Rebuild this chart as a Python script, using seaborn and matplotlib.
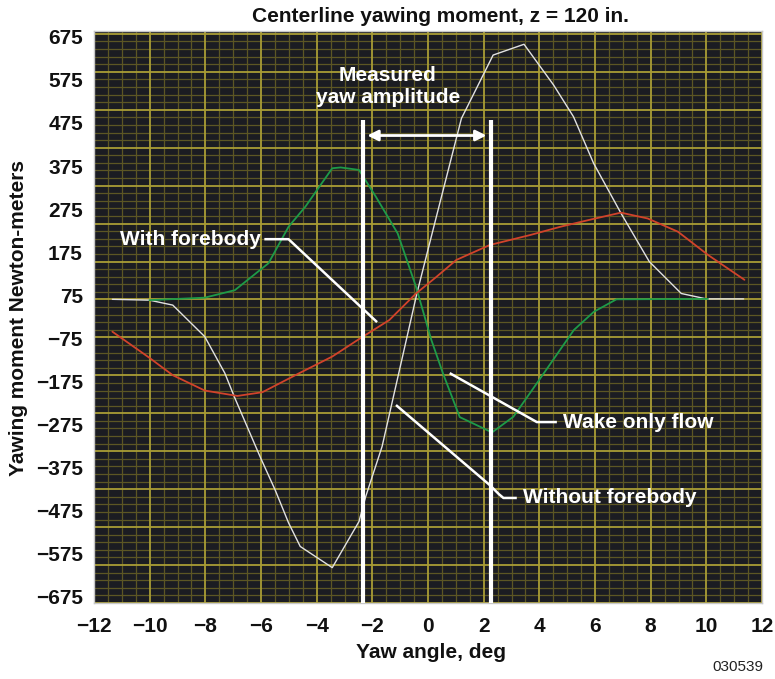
import matplotlib
matplotlib.use("Agg")
import matplotlib.pyplot as plt
import numpy as np
import pandas as pd
import seaborn as sns

# Yaw angle (deg) and yawing moment
WITHOUT_X = [-11.34, -10.01, -9.17, -8.02, -7.30, -6.94, -6.03, -5.49, -5.01, -4.59,
             -3.44, -2.48, -2.24, -1.65, -0.40, 0.30, 1.20, 2.34, 3.45, 4.51,
             5.23, 5.95, 6.93, 7.95, 9.10, 10.00, 11.34]
WITHOUT_Y = [42, 40, 28, -48, -136, -196, -338, -418, -497, -554,
             -605, -494, -434, -313, 56, 241, 478, 631, 657, 559,
             482, 370, 250, 133, 56, 43, 43]

WAKE_X = [-10.01, -8.02, -6.94, -5.73, -5.01, -4.41, -3.44, -3.14, -2.48, -1.87,
          -1.09, -0.43, 0.12, 0.54, 1.14, 2.30, 3.07, 4.03, 5.24, 5.96, 6.77, 10.06]
WAKE_Y = [40, 46, 64, 129, 217, 265, 358, 360, 354, 289,
          201, 72, -56, -137, -242, -279, -241, -149, -32, 12, 42, 43]

WITH_X = [-11.34, -10.01, -9.17, -8.02, -6.85, -5.95, -4.65, -3.44, -2.48, -1.39,
          -0.43, 0.30, 1.02, 2.22, 3.67, 4.76, 5.95, 6.93, 7.89, 8.98, 10.06, 11.37]
WITH_Y = [-36, -99, -141, -178, -191, -182, -137, -96, -54, -8,
          56, 96, 137, 173, 197, 217, 236, 251, 237, 205, 149, 89]

X_TICKS = [-12, -10, -8, -6, -4, -2, 0, 2, 4, 6, 8, 10, 12]
Y_TICK_LABELS = ["675", "575", "475", "375", "275", "175", "75",
                 "\u221275", "\u2212175", "\u2212275", "\u2212375", "\u2212475",
                 "\u2212575", "\u2212675"]

AMPLITUDE_X = [-2.33, 2.28]

BG = "#1b1c22"
GRID_MAJOR = "#a99d35"
GRID_MINOR = "#5c5624"
FONT = ["Liberation Sans", "DejaVu Sans"]

sns.set_theme(style="dark")
plt.rcParams["font.family"] = FONT
plt.rcParams["font.weight"] = "bold"

frames = [
    pd.DataFrame({"yaw": WITHOUT_X, "moment": WITHOUT_Y, "case": "Without forebody"}),
    pd.DataFrame({"yaw": WAKE_X, "moment": WAKE_Y, "case": "Wake only flow"}),
    pd.DataFrame({"yaw": WITH_X, "moment": WITH_Y, "case": "With forebody"}),
]
df = pd.concat(frames, ignore_index=True)
styles = {
    "Without forebody": ("#e2e2e2", 1.0),
    "Wake only flow": ("#1e9b48", 1.3),
    "With forebody": ("#d2432b", 1.3),
}

fig = plt.figure(figsize=(7.75, 6.79), dpi=100)
ax = fig.add_axes([94 / 775, 1 - 603 / 679, 668 / 775, 572 / 679])
ax.set_facecolor(BG)

y_lo, y_hi = -690.3, 689.0
ax.set_xlim(-12, 12)
ax.set_ylim(y_lo, y_hi)

# background grid: vertical lines follow the x ticks, horizontal ones are free
ax.set_xticks(X_TICKS)
ax.set_xticks(np.arange(-12, 12.01, 0.5), minor=True)
ax.grid(which="major", axis="x", color=GRID_MAJOR, lw=1.3)
ax.grid(which="minor", axis="x", color=GRID_MINOR, lw=0.9)
ax.grid(which="both", axis="y", visible=False)
step = 91.49
for i in range(16 * 5):
    yy = y_lo + i * step / 5
    if yy > y_hi:
        break
    major = i % 5 == 0
    ax.axhline(yy, color=GRID_MAJOR if major else GRID_MINOR,
               lw=1.3 if major else 0.9, zorder=0.6 if major else 0.5)
ax.set_axisbelow(True)

for case, sub in df.groupby("case", sort=False):
    color, lw = styles[case]
    sns.lineplot(data=sub, x="yaw", y="moment", sort=False, estimator=None,
                 color=color, lw=lw, ax=ax, zorder=3)

# measured yaw amplitude markers
ax.vlines(AMPLITUDE_X, y_lo, 474, color="white", lw=3, zorder=5)
ax.annotate("", xy=(2.10, 437), xytext=(-2.18, 437),
            arrowprops=dict(arrowstyle="<|-|>", color="white", lw=2,
                            mutation_scale=16, shrinkA=0, shrinkB=0), zorder=6)
ax.text(-1.45, 555, "Measured\nyaw amplitude", color="white", fontsize=15,
        fontweight="bold", ha="center", va="center", linespacing=1.22, zorder=6)

# callouts
lead = dict(color="white", lw=1.8, zorder=6, solid_capstyle="butt")
ax.plot([-5.88, -5.01, -1.83], [187, 187, -13], **lead)
ax.text(-6.02, 187, "With forebody", color="white", fontsize=15,
        fontweight="bold", ha="right", va="center", zorder=6)
ax.plot([0.78, 3.91, 4.63], [-136, -254, -254], **lead)
ax.text(4.85, -254, "Wake only flow", color="white", fontsize=15,
        fontweight="bold", ha="left", va="center", zorder=6)
ax.plot([-1.15, 2.22, 2.55, 2.71, 3.19], [-213, -406, -428, -437, -437], **lead)
ax.text(3.40, -437, "Without forebody", color="white", fontsize=15,
        fontweight="bold", ha="left", va="center", zorder=6)

ax.set_yticks(np.linspace(675, -675, len(Y_TICK_LABELS)))
ax.set_yticklabels(Y_TICK_LABELS)
ax.set_xticklabels([str(v).replace("-", "\u2212") for v in X_TICKS])
ax.tick_params(axis="both", which="both", length=0, labelsize=15,
               labelcolor="#111111")
ax.tick_params(axis="x", pad=10)
ax.tick_params(axis="y", pad=8)
for lab in ax.get_xticklabels() + ax.get_yticklabels():
    lab.set_fontweight("bold")

ax.set_xlabel("")
ax.set_ylabel("")
for sp in ax.spines.values():
    sp.set_color("#c8c8c8")
    sp.set_linewidth(1.0)

fig.text(440 / 775, 1 - 16 / 679, "Centerline yawing moment, z = 120 in.",
         fontsize=15, fontweight="bold", ha="center", va="center", color="#111111")
fig.text(431 / 775, 1 - 652 / 679, "Yaw angle, deg", fontsize=15,
         fontweight="bold", ha="center", va="center", color="#111111")
fig.text(19 / 775, 1 - 318 / 679, "Yawing moment Newton-meters", fontsize=15,
         fontweight="bold", ha="center", va="center", rotation=90, color="#111111")
fig.text(763 / 775, 1 - 667 / 679, "030539", fontsize=11, fontweight="normal",
         ha="right", va="center", color="#222222")

fig.savefig("out.png", dpi=100, facecolor="white")
